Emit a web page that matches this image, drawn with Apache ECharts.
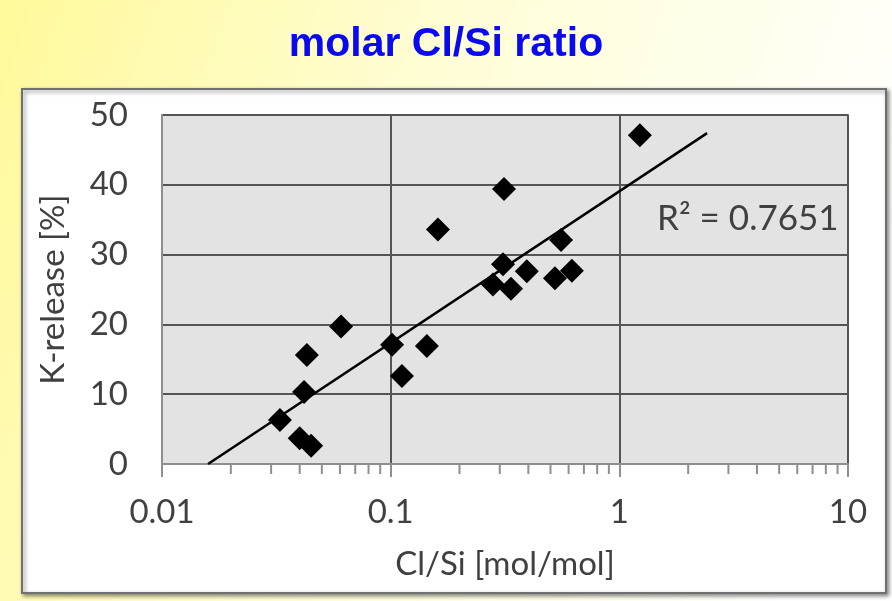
<!DOCTYPE html>
<html>
<head>
<meta charset="utf-8">
<script src="https://cdn.jsdelivr.net/npm/echarts@6/dist/echarts.min.js"></script>
<style>
html,body{margin:0;padding:0;background:#fff;}
#chart{width:892px;height:601px;}
</style>
</head>
<body>
<div id="chart"></div>
<script>
// ---- data ----
var clSi = [1.23, 0.313, 0.161, 0.556, 0.31, 0.394, 0.62, 0.523, 0.28, 0.336, 0.0607, 0.043, 0.1014, 0.144, 0.112, 0.0418, 0.0328, 0.040, 0.0449];
var kRelease = [47.1, 39.4, 33.6, 32.1, 28.6, 27.6, 27.7, 26.6, 25.7, 25.1, 19.7, 15.6, 17.1, 16.9, 12.6, 10.3, 6.3, 3.7, 2.6];
var trendX = [0.0159, 2.42];
var trendY = [0, 47.4];
var xTicks = [0.01, 0.1, 1, 10];
var minorTickValues = [0.02,0.03,0.04,0.05,0.06,0.07,0.08,0.09,0.2,0.3,0.4,0.5,0.6,0.7,0.8,0.9,2,3,4,5,6,7,8,9];
var yTicks = [0, 10, 20, 30, 40, 50];
var titleText = 'molar Cl/Si ratio';
var xName = 'Cl/Si [mol/mol]';
var yName = 'K-release [%]';
var r2Text = 'R² = 0.7651';

var chart = echarts.init(document.getElementById('chart'), null, {renderer: 'canvas'});
var labelFont = 'Lato';
var pts = clSi.map(function (x, i) { return [x, kRelease[i]]; });
var trend = trendX.map(function (x, i) { return [x, trendY[i]]; });

var option = {
  animation: false,
  backgroundColor: {
    type: 'linear', x: 0, y: 0, x2: 1, y2: 0.5,
    colorStops: [
      {offset: 0, color: '#fff99a'},
      {offset: 0.45, color: '#fffdd4'},
      {offset: 1, color: '#ffffff'}
    ]
  },
  title: {
    text: titleText,
    left: 'center',
    top: 19,
    textStyle: {fontFamily: 'Liberation Sans', fontWeight: 'bold', fontSize: 41, color: '#0a0af0'}
  },
  graphic: [
    {
      type: 'rect', z: -10, left: 21, top: 88,
      shape: {width: 864, height: 504},
      style: {fill: '#ffffff', stroke: '#707070', lineWidth: 2,
        shadowBlur: 4, shadowOffsetX: 2, shadowOffsetY: 2, shadowColor: 'rgba(0,0,0,0.45)'}
    },
    {
      type: 'text', z: 100, left: 657, top: 201,
      style: {text: r2Text, font: '35px Lato', fill: '#404040'}
    }
  ],
  grid: {
    left: 162, top: 115, width: 686, height: 349,
    show: true, backgroundColor: '#e3e3e3', borderColor: '#8f8f8f', borderWidth: 2
  },
  xAxis: {
    type: 'log', logBase: 10, min: 0.01, max: 10,
    name: xName, nameLocation: 'middle', nameGap: 84,
    nameTextStyle: {fontFamily: labelFont, fontSize: 33, color: '#404040'},
    axisLine: {show: true, lineStyle: {color: '#8f8f8f', width: 2}},
    axisTick: {show: true, length: 13, lineStyle: {color: '#8f8f8f', width: 2}},
    axisLabel: {fontFamily: labelFont, fontSize: 33, color: '#404040', margin: 32,
      formatter: function (v) { return String(v); }},
    splitLine: {show: true, lineStyle: {color: '#555555', width: 2}}
  },
  yAxis: {
    type: 'value', min: 0, max: 50, interval: 10,
    name: yName, nameLocation: 'middle', nameGap: 92, nameRotate: 90,
    nameTextStyle: {fontFamily: labelFont, fontSize: 33, color: '#404040'},
    axisLine: {show: true, lineStyle: {color: '#8f8f8f', width: 2}},
    axisTick: {show: false},
    axisLabel: {fontFamily: labelFont, fontSize: 33, color: '#404040', margin: 34},
    splitLine: {show: true, lineStyle: {color: '#555555', width: 2}}
  },
  series: [
    {
      type: 'custom', silent: true, clip: false, z: 1,
      data: minorTickValues.map(function (v) { return [v, 0]; }),
      renderItem: function (params, api) {
        var p = api.coord([api.value(0), api.value(1)]);
        return {type: 'line', shape: {x1: p[0], y1: p[1], x2: p[0], y2: p[1] + 10},
          style: {stroke: '#8f8f8f', lineWidth: 2}};
      }
    },
    {
      type: 'line', data: trend, showSymbol: false, symbol: 'none', silent: true, z: 3,
      lineStyle: {color: '#000000', width: 2.5}
    },
    {
      type: 'scatter', data: pts, symbol: 'diamond', symbolSize: 24, z: 4,
      itemStyle: {color: '#000000', opacity: 1}
    }
  ]
};
chart.setOption(option);
</script>
</body>
</html>
